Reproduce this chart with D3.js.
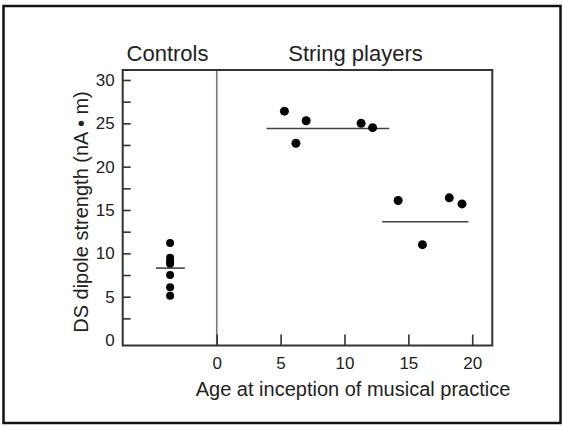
<!DOCTYPE html>
<html>
<head>
<meta charset="utf-8">
<script src="https://cdn.jsdelivr.net/npm/d3@7"></script>
<style>
  body { margin: 0; background: #fff; }
  svg text { font-family: "Liberation Sans", Arial, Helvetica, sans-serif; fill: #222; }
</style>
</head>
<body>
<svg id="chart" width="564" height="426"></svg>
<script>
// controls: no age, drawn left of the divider at a fixed slot
const controlValues = [11.2, 9.5, 9.1, 8.8, 7.5, 6.1, 5.1];
const controlSlot = -3.65;

// string players: age at inception vs dipole strength
const playerAges   = [5.3, 6.2, 7.0, 11.3, 12.2, 14.2, 16.1, 18.2, 19.2];
const playerValues = [26.4, 22.7, 25.3, 25.0, 24.5, 16.1, 11.0, 16.4, 15.7];

// group mean lines: [x start, x end, value]
const meanStarts = [-4.75, 3.9, 12.95];
const meanEnds   = [-2.5, 13.5, 19.7];
const meanValues = [8.3, 24.4, 13.65];

const xTicks = [0, 5, 10, 15, 20];
const yTicks = d3.range(0, 30.01, 2.5);
const groupLabels = ['Controls', 'String players'];

const svg = d3.select('#chart');

// outer frame
svg.append('rect')
  .attr('x', 3.5).attr('y', 6).attr('width', 557).attr('height', 417)
  .attr('fill', 'none').attr('stroke', '#111').attr('stroke-width', 2.5);

const plot = { left: 122.7, right: 492.3, top: 70, bottom: 345.5 };

const x = d3.scaleLinear().domain([-7.36, 21.57]).range([plot.left, plot.right]);
const y = d3.scaleLinear().domain([-0.63, 31.15]).range([plot.bottom, plot.top]);

// divider at age 0
svg.append('line')
  .attr('x1', x(0)).attr('x2', x(0))
  .attr('y1', plot.top).attr('y2', plot.bottom)
  .attr('stroke', '#777').attr('stroke-width', 1.6);

// axes (ticks point inward)
const yAxis = svg.append('g')
  .attr('transform', `translate(${plot.left},0)`)
  .call(d3.axisLeft(y).tickValues(yTicks).tickSizeInner(-8).tickSizeOuter(0).tickPadding(8)
    .tickFormat(d => d % 5 === 0 ? d : ''));
yAxis.select('.domain').remove();
yAxis.selectAll('.tick line').attr('stroke', '#333').attr('stroke-width', 1.6)
  .filter(d => d === 0).remove();
yAxis.selectAll('.tick text').style('font-size', '17px').attr('fill', '#222');

const xAxis = svg.append('g')
  .attr('transform', `translate(0,${plot.bottom})`)
  .call(d3.axisBottom(x).tickValues(xTicks).tickSizeInner(-11).tickSizeOuter(0).tickPadding(11));
xAxis.select('.domain').remove();
xAxis.selectAll('.tick line').attr('stroke', '#333').attr('stroke-width', 1.6);
xAxis.selectAll('.tick text').style('font-size', '17px').attr('fill', '#222');

// plot frame
svg.append('rect')
  .attr('x', plot.left).attr('y', plot.top)
  .attr('width', plot.right - plot.left).attr('height', plot.bottom - plot.top)
  .attr('fill', 'none').attr('stroke', '#333').attr('stroke-width', 2);

// mean lines
svg.selectAll('.mean')
  .data(meanValues)
  .join('line')
  .attr('class', 'mean')
  .attr('x1', (d, i) => x(meanStarts[i]))
  .attr('x2', (d, i) => x(meanEnds[i]))
  .attr('y1', d => y(d)).attr('y2', d => y(d))
  .attr('stroke', '#444').attr('stroke-width', 1.6);

// dots
svg.selectAll('.ctrl')
  .data(controlValues)
  .join('circle')
  .attr('class', 'ctrl')
  .attr('cx', x(controlSlot))
  .attr('cy', d => y(d))
  .attr('r', 4)
  .attr('fill', '#000');

svg.selectAll('.player')
  .data(playerValues)
  .join('circle')
  .attr('class', 'player')
  .attr('cx', (d, i) => x(playerAges[i]))
  .attr('cy', d => y(d))
  .attr('r', 4.5)
  .attr('fill', '#000');

// group titles
svg.selectAll('.group-title')
  .data(groupLabels)
  .join('text')
  .attr('class', 'group-title')
  .attr('x', (d, i) => i === 0 ? 167.5 : 355.5)
  .attr('y', 60.5)
  .attr('text-anchor', 'middle')
  .style('font-size', '22px')
  .text(d => d);

// axis titles
svg.append('text')
  .attr('transform', 'translate(88,212) rotate(-90)')
  .attr('text-anchor', 'middle')
  .style('font-size', '20px')
  .text('DS dipole strength (nA \u2022 m)');

svg.append('text')
  .attr('x', 353).attr('y', 396)
  .attr('text-anchor', 'middle')
  .style('font-size', '20px')
  .text('Age at inception of musical practice');
</script>
</body>
</html>
